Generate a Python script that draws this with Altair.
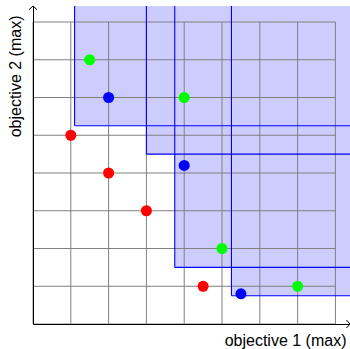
import altair as alt
import pandas as pd

# Solutions in objective space, grouped by front colour
red_x = [1, 2, 3, 4.5]
red_y = [5, 4, 3, 1]
blue_x = [2, 4, 5.5]
blue_y = [6, 4.2, 0.8]
green_x = [1.5, 4, 5, 7]
green_y = [7, 6, 2, 1]

# Lower-left corners of the dominated (shaded) regions
region_x = [1.1, 3.0, 3.75, 5.25]
region_y = [5.25, 4.5, 1.5, 0.75]

# Grid positions
grid_ticks = [0, 1, 2, 3, 4, 5, 6, 7, 8]

# Scale extents (one unit is about 37.8 px)
XMAX = 8.386
YMAX = 8.424
W, H = 317, 318

points = pd.DataFrame(
    {
        "x": red_x + blue_x + green_x,
        "y": red_y + blue_y + green_y,
        "group": ["red"] * len(red_x) + ["blue"] * len(blue_x) + ["green"] * len(green_x),
    }
)
regions = pd.DataFrame({"x": region_x, "y": region_y, "x2": XMAX, "y2": YMAX})
grid_v = pd.DataFrame({"x": grid_ticks, "y": 0, "y2": grid_ticks[-1]})
grid_h = pd.DataFrame({"y": grid_ticks, "x": 0, "x2": grid_ticks[-1]})

xs = alt.Scale(domain=[0, XMAX], nice=False, zero=False)
ys = alt.Scale(domain=[0, YMAX], nice=False, zero=False)

x_axis = alt.Axis(
    title="objective 1 (max)", labels=False, ticks=False, grid=False,
    domainColor="black", domainWidth=1, zindex=1,
    titleAnchor="end", titleAlign="right", titleBaseline="alphabetic",
    titleX=313, titleY=21,
)
y_axis = alt.Axis(
    title="objective 2 (max)", labels=False, ticks=False, grid=False,
    domainColor="black", domainWidth=1, zindex=1,
    titleAngle=270, titleAlign="right", titleBaseline="alphabetic",
    titleX=-13, titleY=9,
)

fill = alt.Chart(regions).mark_rect(color="#ccccff", opacity=1, clip=False).encode(
    x=alt.X("x:Q", scale=xs, axis=x_axis),
    x2="x2:Q",
    y=alt.Y("y:Q", scale=ys, axis=y_axis),
    y2="y2:Q",
)

grid_vert = alt.Chart(grid_v).mark_rule(color="#808080", strokeWidth=1).encode(
    x=alt.X("x:Q", scale=xs), y=alt.Y("y:Q", scale=ys), y2="y2:Q"
)
grid_horz = alt.Chart(grid_h).mark_rule(color="#808080", strokeWidth=1).encode(
    y=alt.Y("y:Q", scale=ys), x=alt.X("x:Q", scale=xs), x2="x2:Q"
)

edge_left = alt.Chart(regions).mark_rule(color="#0000ff", strokeWidth=1.1).encode(
    x=alt.X("x:Q", scale=xs), y=alt.Y("y:Q", scale=ys), y2="y2:Q"
)
edge_bottom = alt.Chart(regions).mark_rule(color="#0000ff", strokeWidth=1.1).encode(
    y=alt.Y("y:Q", scale=ys), x=alt.X("x:Q", scale=xs), x2="x2:Q"
)

dots = alt.Chart(points).mark_circle(size=122, opacity=1).encode(
    x=alt.X("x:Q", scale=xs),
    y=alt.Y("y:Q", scale=ys),
    color=alt.Color(
        "group:N",
        scale=alt.Scale(domain=["red", "blue", "green"], range=["#ff0000", "#0000ff", "#00ff00"]),
        legend=None,
    ),
)

# Arrow heads at the ends of both axes
arrow_x = alt.Chart(pd.DataFrame({"x": [XMAX], "y": [0]})).mark_point(
    shape="M-0.9,-1L0,0L-0.9,1", size=64, filled=False, color="black", strokeWidth=1, opacity=1, clip=False
).encode(x=alt.X("x:Q", scale=xs), y=alt.Y("y:Q", scale=ys))
arrow_y = alt.Chart(pd.DataFrame({"x": [0], "y": [YMAX]})).mark_point(
    shape="M-1,0.9L0,0L1,0.9", size=64, filled=False, color="black", strokeWidth=1, opacity=1, clip=False
).encode(x=alt.X("x:Q", scale=xs), y=alt.Y("y:Q", scale=ys))

chart = (
    alt.layer(fill, grid_vert, grid_horz, edge_left, edge_bottom, dots, arrow_x, arrow_y)
    .properties(
        width=W,
        height=H,
        autosize=alt.AutoSizeParams(type="none"),
        padding={"left": 33, "top": 6, "right": 0, "bottom": 25},
    )
    .configure_view(stroke=None)
    .configure_axis(
        titleFont="Liberation Sans", titleFontSize=16, titleFontWeight="normal", titleColor="black"
    )
)

chart.save("out.html", embed_options={"renderer": "svg", "actions": False})
